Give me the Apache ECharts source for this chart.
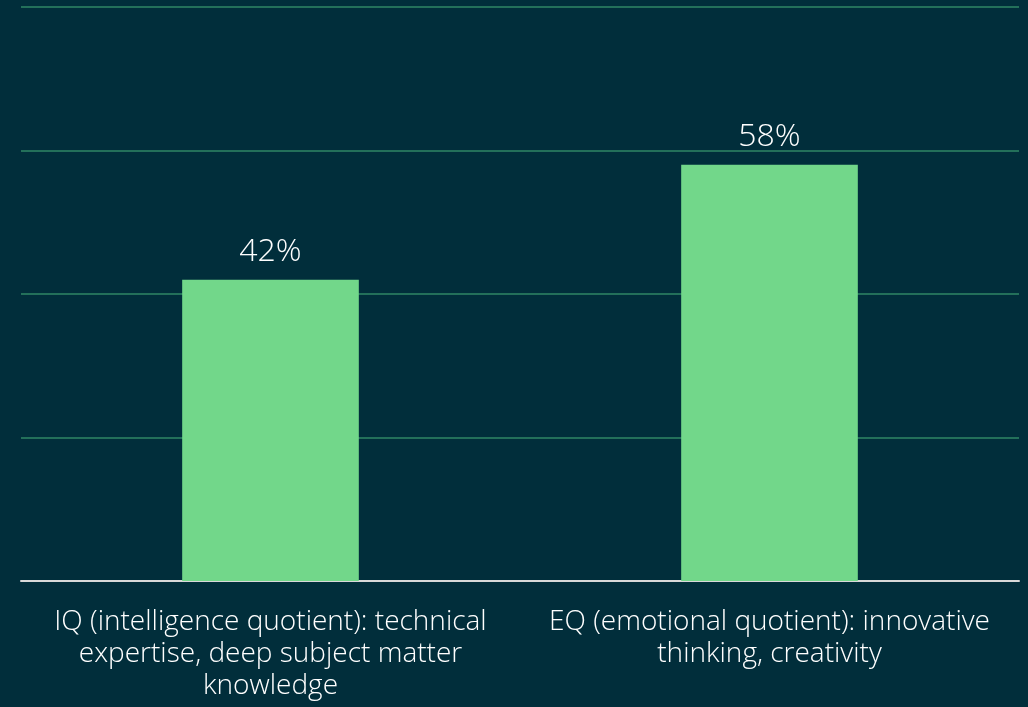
<!DOCTYPE html>
<html><head><meta charset="utf-8">
<script src="https://cdn.jsdelivr.net/npm/echarts@6/dist/echarts.min.js"></script>
<style>html,body{margin:0;padding:0;background:#012e3b;}#c{width:1028px;height:707px;}</style>
</head><body><div id="c"></div>
<script>
const categories = [
  "IQ (intelligence quotient): technical\nexpertise, deep subject matter\nknowledge",
  "EQ (emotional quotient): innovative\nthinking, creativity"
];
const values = [42, 58];

const chart = echarts.init(document.getElementById('c'));
chart.setOption({
  backgroundColor: '#012e3b',
  animation: false,
  grid: { left: 21, right: 9, top: 7, bottom: 126, containLabel: false },
  xAxis: {
    type: 'category',
    data: categories,
    axisLine: { lineStyle: { color: '#d9d9d9', width: 2 } },
    axisTick: { show: false },
    axisLabel: {
      color: '#ffffff', fontFamily: 'Open Sans', fontWeight: 300, fontSize: 28,
      lineHeight: 32, margin: 25, interval: 0
    }
  },
  yAxis: {
    type: 'value', min: 0, max: 80, interval: 20,
    axisLabel: { show: false },
    axisLine: { show: false }, axisTick: { show: false },
    splitLine: { lineStyle: { color: '#23705a', width: 2 } }
  },
  series: [{
    type: 'bar',
    data: values,
    barWidth: '35.4%',
    itemStyle: { color: '#72d78a' },
    label: {
      show: true, position: 'top', distance: 12,
      formatter: '{c}%', color: '#ffffff',
      fontFamily: 'Open Sans', fontWeight: 300, fontSize: 32
    }
  }]
});
</script></body></html>
